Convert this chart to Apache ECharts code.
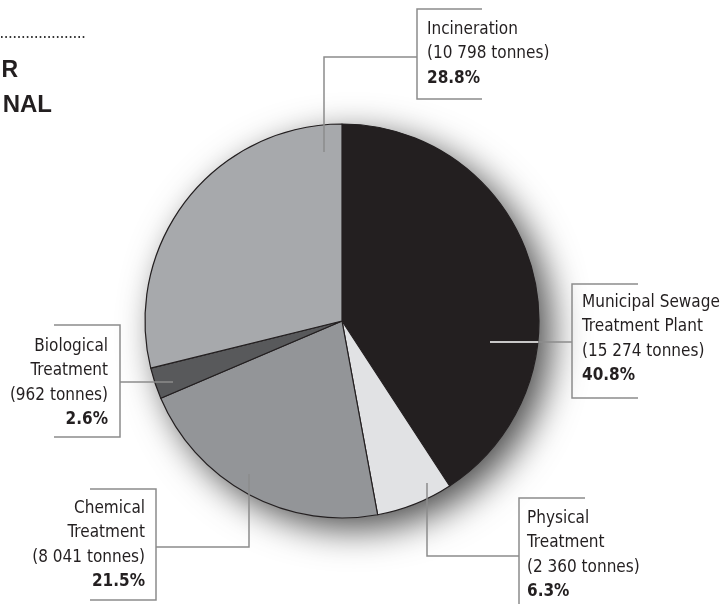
<!DOCTYPE html>
<html><head><meta charset="utf-8">
<script src="https://cdn.jsdelivr.net/npm/echarts@6/dist/echarts.min.js"></script>
<style>html,body{margin:0;padding:0;background:#fff}#c{width:724px;height:604px}</style>
</head><body><div id="c"></div>
<script>
// ---- data ----
const categories = ['Municipal Sewage\nTreatment Plant', 'Physical\nTreatment', 'Chemical\nTreatment', 'Biological\nTreatment', 'Incineration'];
const tonnes = [15274, 2360, 8041, 962, 10798];
const titleFragments = ['R', 'NAL'];

// ---- styles / layout ----
const sliceColors = ['#231f20', '#e1e2e4', '#939598', '#58595b', '#a7a9ac'];
const FONT = '"DejaVu Sans Condensed", "Liberation Sans Narrow", "Liberation Sans", sans-serif';
const CENTER = [342, 321], RADIUS = 197;
// label anchor + bracket/leader polyline per slice
const labelPlaces = [
  {align: 'left',  x: 582, y: 290, pts: [[490,342],[572,342],[572,284],[638,284],[572,284],[572,398],[638,398]]},
  {align: 'left',  x: 527, y: 506, pts: [[427,483],[427,556],[519,556],[519,498],[585,498],[519,498],[519,614],[585,614]]},
  {align: 'right', x: 145, y: 496, pts: [[249,474],[249,547],[156,547],[156,489],[90,489],[156,489],[156,600],[90,600]]},
  {align: 'right', x: 108, y: 334, pts: [[173,382],[120,382],[120,325],[54,325],[120,325],[120,437],[54,437]]},
  {align: 'left',  x: 427, y: 17,  pts: [[324,152],[324,57],[417,57],[417,9],[482,9],[417,9],[417,99],[482,99]]}
];
const LINE_GRAY = '#8c8c8c';

function fmt(v) { return String(v).replace(/\B(?=(\d{3})+(?!\d))/g, ' '); }

const total = tonnes.reduce((a, b) => a + b, 0);
const pieData = categories.map((name, i) => ({name: name, value: tonnes[i], itemStyle: {color: sliceColors[i]}}));
const labelData = categories.map((name, i) => {
  const item = {name: name, value: tonnes[i]};
  if (i === 0) {
    item.labelLine = {lineStyle: {color: {
      type: 'linear', global: true, x: 490, y: 0, x2: 572, y2: 0,
      colorStops: [{offset: 0, color: '#ffffff'}, {offset: 0.585, color: '#ffffff'},
                   {offset: 0.585, color: LINE_GRAY}, {offset: 1, color: LINE_GRAY}]
    }}};
  }
  return item;
});

const chart = echarts.init(document.getElementById('c'), null, {renderer: 'canvas'});
chart.setOption({
  animation: false,
  backgroundColor: '#ffffff',
  graphic: [
    {type: 'line', shape: {x1: 1, y1: 37, x2: 86, y2: 37}, style: {stroke: '#333', lineWidth: 1.8, lineDash: [1.6, 2.7]}},
    {type: 'text', x: 18, y: 71, style: {text: titleFragments[0], textAlign: 'right', textVerticalAlign: 'middle', font: 'bold 23px "Liberation Sans", Arial, sans-serif', fill: '#231f20'}},
    {type: 'text', x: 52, y: 105, style: {text: titleFragments[1], textAlign: 'right', textVerticalAlign: 'middle', font: 'bold 24px "Liberation Sans", Arial, sans-serif', fill: '#231f20'}}
  ],
  series: [
    {
      // drop shadow underneath the pie
      type: 'pie', silent: true, center: CENTER, radius: RADIUS, z: 1,
      label: {show: false}, labelLine: {show: false},
      itemStyle: {color: '#a7a9ac', shadowBlur: 36, shadowColor: 'rgba(0,0,0,0.7)', shadowOffsetX: 12, shadowOffsetY: 11},
      data: [{value: total}]
    },
    {
      // the pie slices
      type: 'pie', silent: true, center: CENTER, radius: RADIUS, z: 2,
      startAngle: 90, clockwise: true,
      itemStyle: {borderColor: '#231f20', borderWidth: 1.2},
      label: {show: false}, labelLine: {show: false},
      data: pieData
    },
    {
      // labels and leader lines, drawn above the slices
      type: 'pie', silent: true, center: CENTER, radius: RADIUS, z: 3,
      startAngle: 90, clockwise: true, avoidLabelOverlap: false,
      itemStyle: {color: 'rgba(0,0,0,0)', borderWidth: 0},
      label: {
        show: true, position: 'outside',
        formatter: p => {
          const lines = p.name.split('\n').map(s => '{n|' + s + '}');
          lines.push('{n|(' + fmt(p.value) + ' tonnes)}');
          lines.push('{b|' + (p.value / total * 100).toFixed(1) + '%}');
          return lines.join('\n');
        },
        rich: {
          n: {fontFamily: FONT, fontSize: 17, lineHeight: 24.5, color: '#231f20'},
          b: {fontFamily: FONT, fontSize: 17, lineHeight: 24.5, fontWeight: 'bold', color: '#231f20'}
        }
      },
      labelLine: {show: true, showAbove: true, smooth: false, length: 10, length2: 10, lineStyle: {color: LINE_GRAY, width: 1.5}},
      labelLayout: params => {
        const lp = labelPlaces[params.dataIndex];
        return {x: lp.x, y: lp.y, align: lp.align, verticalAlign: 'top', labelLinePoints: lp.pts};
      },
      data: labelData
    }
  ]
});
</script></body></html>
